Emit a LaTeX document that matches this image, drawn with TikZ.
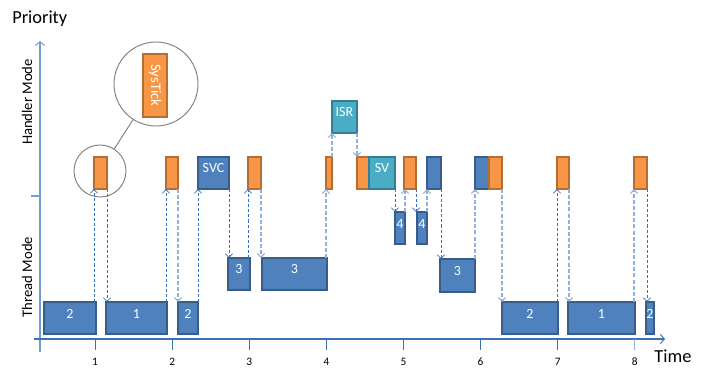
\documentclass[tikz,border=0pt]{standalone}
\usepackage{fontspec}
\setmainfont{Carlito}
\usetikzlibrary{arrows.meta,fit}
\definecolor{bfill}{HTML}{4F81BD}
\definecolor{bdraw}{HTML}{385D8A}
\definecolor{ofill}{HTML}{F79646}
\definecolor{odraw}{HTML}{B66D31}
\definecolor{tfill}{HTML}{4BACC6}
\definecolor{tdraw}{HTML}{357D91}
\definecolor{darr}{HTML}{3272C4}
\definecolor{larr}{HTML}{8FB1DD}
\definecolor{axc}{HTML}{3A72B4}
\definecolor{vaxc}{HTML}{6E9BD3}
\definecolor{magc}{HTML}{7F7F7F}
\tikzset{
  blk/.style={fit={#1}, inner sep=0pt, outer sep=0pt, line width=0.9pt,
    text=white, font=\fontsize{10.5}{12}\selectfont},
  bluebox/.style={blk={#1}, fill=bfill, draw=bdraw},
  orangebox/.style={blk={#1}, fill=ofill, draw=odraw},
  tealbox/.style={blk={#1}, fill=tfill, draw=tdraw},
  darrow/.style={draw=darr, line width=0.65pt, dash pattern=on 2.3pt off 1.5pt,
    -{Straight Barb[length=2.8pt,width=5.5pt,line width=0.6pt]}},
  larrow/.style={draw=larr, line width=1.5pt, dash pattern=on 3pt off 1.6pt,
    -{Straight Barb[length=2.8pt,width=5.5pt,line width=0.8pt]}},
  mag/.style={circle, draw=magc, line width=0.7pt, inner sep=0pt},
  axlbl/.style={font=\fontsize{11}{13}\selectfont},
  ticklbl/.style={font=\fontsize{8.5}{10}\selectfont, inner sep=0pt},
  biglbl/.style={font=\fontsize{13.8}{16}\selectfont, inner sep=0pt},
}
\begin{document}
\begin{tikzpicture}[x=0.75pt, y=-0.75pt]
\useasboundingbox (0,0) rectangle (704,379);

% axes
\coordinate (yb) at (40,352);
\coordinate (yt) at (40,41);
\draw[vaxc, line width=0.9pt, -{Straight Barb[length=3pt,width=7pt,line width=0.7pt]}] (yb) -- (yt);
\coordinate (yk1) at (31,196);
\coordinate (yk2) at (40,196);
\draw[vaxc, line width=0.9pt] (yk1) -- (yk2);
\coordinate (xl) at (34,339);
\coordinate (xr) at (665,339);
\draw[axc, line width=0.9pt, -{Straight Barb[length=3pt,width=7pt,line width=0.7pt]}] (xl) -- (xr);
\foreach \i/\c in {1/axc,2/axc,3/axc,4/axc,5/axc,6/axc,7/axc,8/larr} {
  \coordinate (tk\i) at ({18+77.1*\i},339);
  \draw[\c, line width=0.9pt] (tk\i) -- ++(0,11);
  \node[ticklbl] (tl\i) at ({18+77.1*\i},362) {\i};
}

% labels
\node[biglbl, anchor=west] (prio) at (12,19) {Priority};
\node[biglbl] (time) at (673,356) {Time};
\node[axlbl, rotate=90] (hm) at (27,102) {Handler Mode};
\node[axlbl, rotate=90] (tm) at (27,277) {Thread Mode};

% bottom thread row
\node[bluebox={(44,302) (96,334)}] (t2a) {2};
\node[bluebox={(106,302) (167,334)}] (t1a) {1};
\node[bluebox={(178,302) (198,334)}] (t2b) {2};
\node[bluebox={(502,302) (558,334)}] (t2c) {2};
\node[bluebox={(568,302) (635,334)}] (t1b) {1};
\node[bluebox={(646,302) (654,334)}] (t2d) {2};
% level 3
\node[bluebox={(228,258) (250,290)}] (t3a) {3};
\node[bluebox={(262,258) (327,290)}] (t3b) {3};
\node[bluebox={(440,259) (475,292)}] (t3c) {3};
% level 4
\node[bluebox={(395,212) (405,244)}] (t4a) {4};
\node[bluebox={(417,212) (427,244)}] (t4b) {4};
% handler row
\node[orangebox={(94,157) (107,189)}] (o1) {};
\node[orangebox={(166,157) (178,189)}] (o2) {};
\node[bluebox={(198,157) (229,189)}] (svc) {SVC};
\node[orangebox={(248,157) (261,189)}] (o3) {};
\node[orangebox={(326,157) (332,189)}] (o4) {};
\node[tealbox={(332,101) (357,133)}] (isr) {ISR};
\node[orangebox={(357,157) (369,189)}] (o5) {};
\node[tealbox={(369,157) (395,189)}] (sv) {SV};
\node[orangebox={(404,157) (416,189)}] (o6) {};
\node[bluebox={(427,157) (441,189)}] (h7) {};
\node[bluebox={(475,157) (489,189)}] (h8) {};
\node[orangebox={(489,157) (502,189)}] (o7) {};
\node[orangebox={(557,157) (569,189)}] (o8) {};
\node[orangebox={(634,157) (647,189)}] (o9) {};

% magnifier
\node[mag, minimum size=39pt] (smag) at (100,171) {};
\node[mag, minimum size=63pt] (bmag) at (156,84) {};
\draw[magc, line width=0.7pt] (smag) -- (bmag);
\node[orangebox={(143,54) (167,117)}] (systick) {};
\node[rotate=-90, text=white, font=\fontsize{11}{13}\selectfont, inner sep=0pt] (systxt) at (systick.center) {SysTick};

% arrows
\draw[darrow] (t2a.north -| o1.west) -- (o1.south west);
\draw[darrow] (o1.south east) -- (t1a.north -| o1.east);
\draw[darrow] (t1a.north -| o2.west) -- (o2.south west);
\draw[larrow] (o2.south east) -- (t2b.north -| o2.east);
\draw[darrow] (t2b.north -| svc.west) -- (svc.south west);
\draw[darrow] (svc.south east) -- (t3a.north -| svc.east);
\draw[darrow] (t3a.north -| o3.west) -- (o3.south west);
\draw[larrow] (o3.south east) -- (t3b.north -| o3.east);
\draw[larrow] (t3b.north -| o4.west) -- (o4.south west);
\draw[larrow] (o4.north east) -- (isr.south west);
\draw[larrow] (isr.south east) -- (o5.north west);
\draw[darrow] (sv.south east) -- (t4a.north -| sv.east);
\draw[larrow] (t4a.north east) -- (o6.south -| t4a.east);
\draw[darrow] (o6.south east) -- (t4b.north -| o6.east);
\draw[larrow] (t4b.north east) -- (h7.south -| t4b.east);
\draw[darrow] (h7.south east) -- (t3c.north -| h7.east);
\draw[larrow] (t3c.north east) -- (h8.south -| t3c.east);
\draw[larrow] (o7.south east) -- (t2c.north -| o7.east);
\draw[darrow] (t2c.north -| o8.west) -- (o8.south west);
\draw[larrow] (o8.south east) -- (t1b.north -| o8.east);
\draw[larrow] (t1b.north -| o9.west) -- (o9.south west);
\draw[darrow] (o9.south east) -- (t2d.north -| o9.east);
\end{tikzpicture}
\end{document}
